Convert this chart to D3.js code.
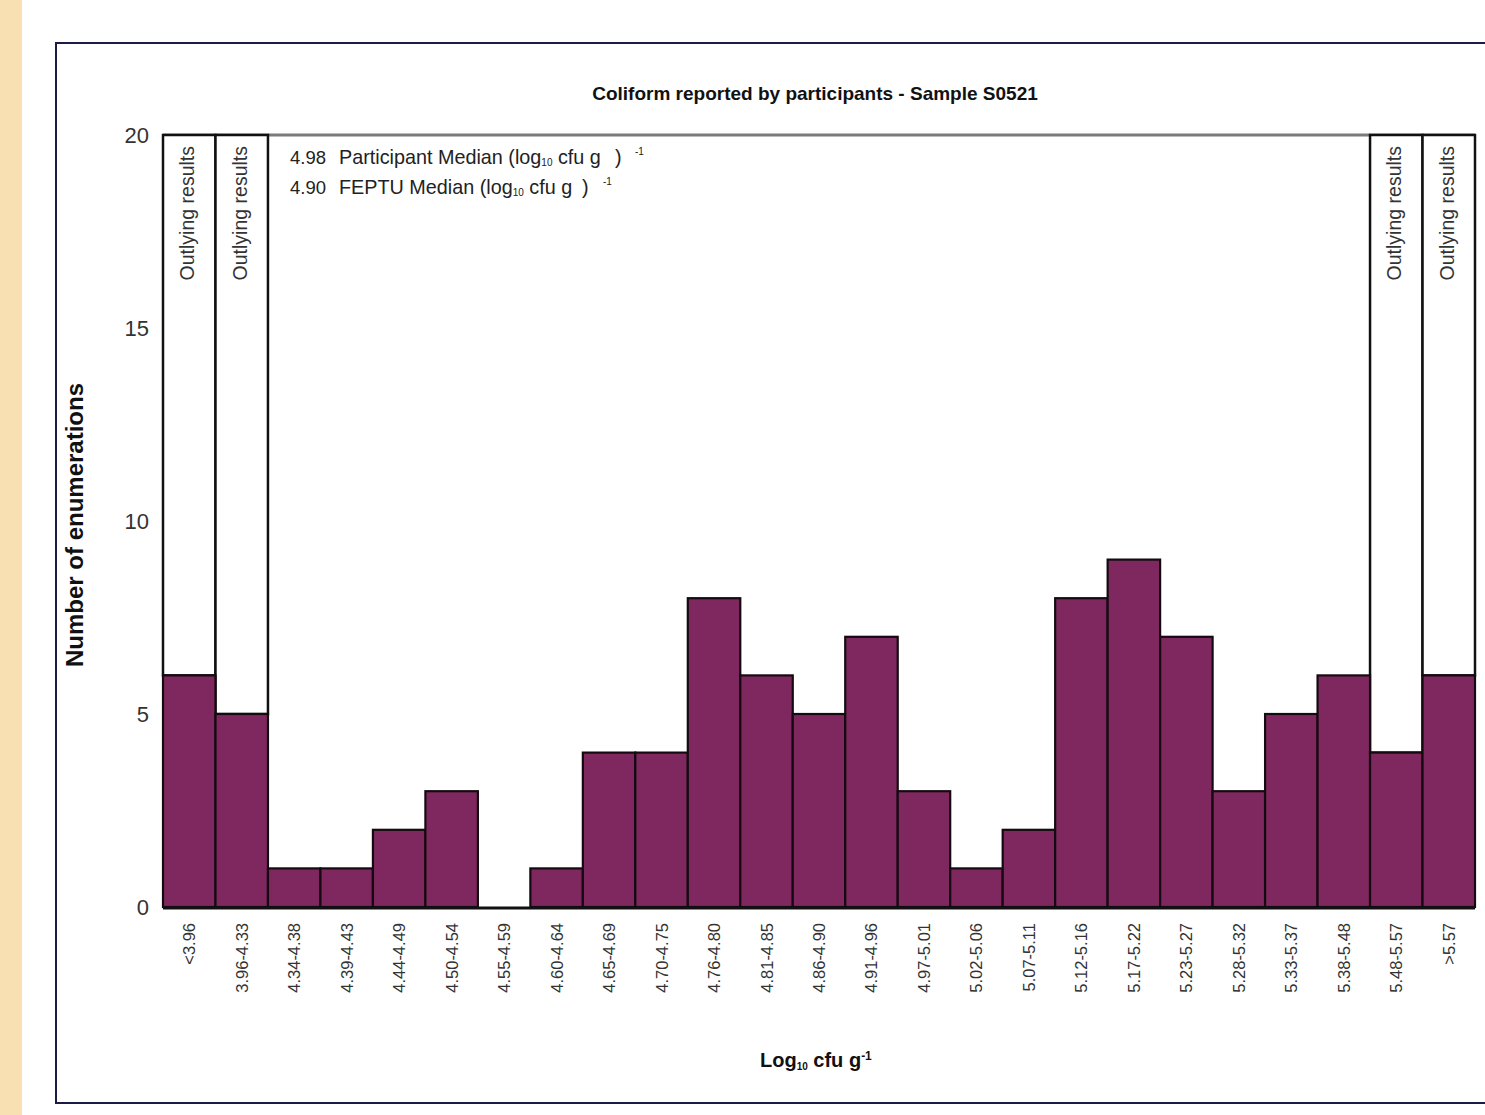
<!DOCTYPE html>
<html>
<head>
<meta charset="utf-8">
<script src="https://cdn.jsdelivr.net/npm/d3@7"></script>
<style>
  html, body { margin: 0; padding: 0; background: #fff; }
  svg { display: block; }
  text { font-family: "Liberation Sans", Arial, sans-serif; }
</style>
</head>
<body>
<script>
// Histogram of participant coliform counts, sample S0521
const categories = ["<3.96", "3.96-4.33", "4.34-4.38", "4.39-4.43", "4.44-4.49", "4.50-4.54",
  "4.55-4.59", "4.60-4.64", "4.65-4.69", "4.70-4.75", "4.76-4.80", "4.81-4.85", "4.86-4.90",
  "4.91-4.96", "4.97-5.01", "5.02-5.06", "5.07-5.11", "5.12-5.16", "5.17-5.22", "5.23-5.27",
  "5.28-5.32", "5.33-5.37", "5.38-5.48", "5.48-5.57", ">5.57"];
const counts = [6, 5, 1, 1, 2, 3, 0, 1, 4, 4, 8, 6, 5, 7, 3, 1, 2, 8, 9, 7, 3, 5, 6, 4, 6];
const outlying = ["<3.96", "3.96-4.33", "5.48-5.57", ">5.57"];
const yTicks = [0, 5, 10, 15, 20];
const medianValues = ["4.98", "4.90"];
const medianLabels = ["Participant Median (log", "FEPTU Median (log"];

const W = 1485, H = 1115;
const svg = d3.select("body").append("svg").attr("width", W).attr("height", H);

// page strip and frame
svg.append("rect").attr("x", 0).attr("y", 0).attr("width", 22).attr("height", H).attr("fill", "#f9e0b3");
svg.append("rect").attr("x", 56).attr("y", 43).attr("width", W + 20).attr("height", 1060)
  .attr("fill", "#fff").attr("stroke", "#1c1b45").attr("stroke-width", 2);

const plot = { left: 163, right: 1475, top: 135, bottom: 907 };

const x = d3.scaleBand().domain(categories).range([plot.left, plot.right]).padding(0);
const y = d3.scaleLinear().domain([0, 20]).range([plot.bottom, plot.top]);

// title
svg.append("text").attr("x", 815).attr("y", 100).attr("text-anchor", "middle")
  .attr("font-size", 19).attr("font-weight", "bold").attr("fill", "#111")
  .text("Coliform reported by participants - Sample S0521");

// top edge of plot
svg.append("line").attr("x1", plot.left).attr("x2", plot.right)
  .attr("y1", plot.top).attr("y2", plot.top)
  .attr("stroke", "#7a7a7a").attr("stroke-width", 3);

// outlying-result columns: blank bands from top of plot down to the bar
const out = svg.append("g");
categories.forEach((c, i) => {
  if (!outlying.includes(c)) return;
  out.append("rect").attr("x", x(c)).attr("y", y(20))
    .attr("width", x.bandwidth()).attr("height", y(counts[i]) - y(20))
    .attr("fill", "#fff").attr("stroke", "#111").attr("stroke-width", 2.5);
  out.append("text")
    .attr("transform", `translate(${x(c) + x.bandwidth() / 2 + 5},${plot.top + 11}) rotate(-90)`)
    .attr("text-anchor", "end").attr("font-size", 19.5).attr("fill", "#333")
    .text("Outlying results");
});

// bars
svg.append("g").selectAll("rect").data(categories).join("rect")
  .attr("x", d => x(d)).attr("width", x.bandwidth())
  .attr("y", (d, i) => y(counts[i])).attr("height", (d, i) => y(0) - y(counts[i]))
  .attr("fill", "#7e285f").attr("stroke", "#140a10").attr("stroke-width", 2.2);

// baseline
svg.append("line").attr("x1", plot.left).attr("x2", plot.right)
  .attr("y1", plot.bottom + 1).attr("y2", plot.bottom + 1)
  .attr("stroke", "#111").attr("stroke-width", 3);

// y axis tick labels
const yAxis = d3.axisLeft(y).tickValues(yTicks).tickSize(0).tickPadding(0);
const ya = svg.append("g").attr("transform", `translate(149,0)`).call(yAxis);
ya.select(".domain").remove();
ya.selectAll("text").attr("font-size", 22).attr("fill", "#333")
  .attr("font-family", "'Liberation Sans', Arial, sans-serif");

// x axis category labels
const xAxis = d3.axisBottom(x).tickSize(0).tickPadding(0);
const xa = svg.append("g").attr("transform", `translate(0,${plot.bottom})`).call(xAxis);
xa.select(".domain").remove();
xa.selectAll("text")
  .attr("font-size", 16.5).attr("fill", "#333")
  .attr("font-family", "'Liberation Sans', Arial, sans-serif")
  .attr("text-anchor", "end").attr("dy", null).attr("y", null)
  .attr("transform", "translate(6,16) rotate(-90)");

// axis titles
svg.append("text")
  .attr("transform", "translate(83,525) rotate(-90)")
  .attr("text-anchor", "middle").attr("font-size", 24).attr("font-weight", "bold").attr("fill", "#111")
  .text("Number of enumerations");

const xt = svg.append("text").attr("x", 760).attr("y", 1067)
  .attr("font-size", 20).attr("font-weight", "bold").attr("fill", "#111");
xt.append("tspan").text("Log");
xt.append("tspan").attr("font-size", 10).attr("dy", 3).text("10");
xt.append("tspan").attr("dy", -3).text(" cfu g");
xt.append("tspan").attr("font-size", 12).attr("dy", -7).text("-1");

// median notes
const closeX = [615, 582];
const supX = [635, 603];
medianValues.forEach((v, i) => {
  const yy = 164 + i * 30;
  svg.append("text").attr("x", 290).attr("y", yy).attr("font-size", 18.5).attr("fill", "#222").text(v);
  const t = svg.append("text").attr("x", 339).attr("y", yy)
    .attr("font-size", 19.8).attr("fill", "#222");
  t.append("tspan").text(medianLabels[i]);
  t.append("tspan").attr("font-size", 10).attr("dy", 2).text("10");
  t.append("tspan").attr("dy", -2).text(" cfu g");
  svg.append("text").attr("x", closeX[i]).attr("y", yy).attr("font-size", 19.8).attr("fill", "#222").text(")");
  svg.append("text").attr("x", supX[i]).attr("y", yy - 9).attr("font-size", 10).attr("fill", "#222").text("-1");
});
</script>
</body>
</html>
